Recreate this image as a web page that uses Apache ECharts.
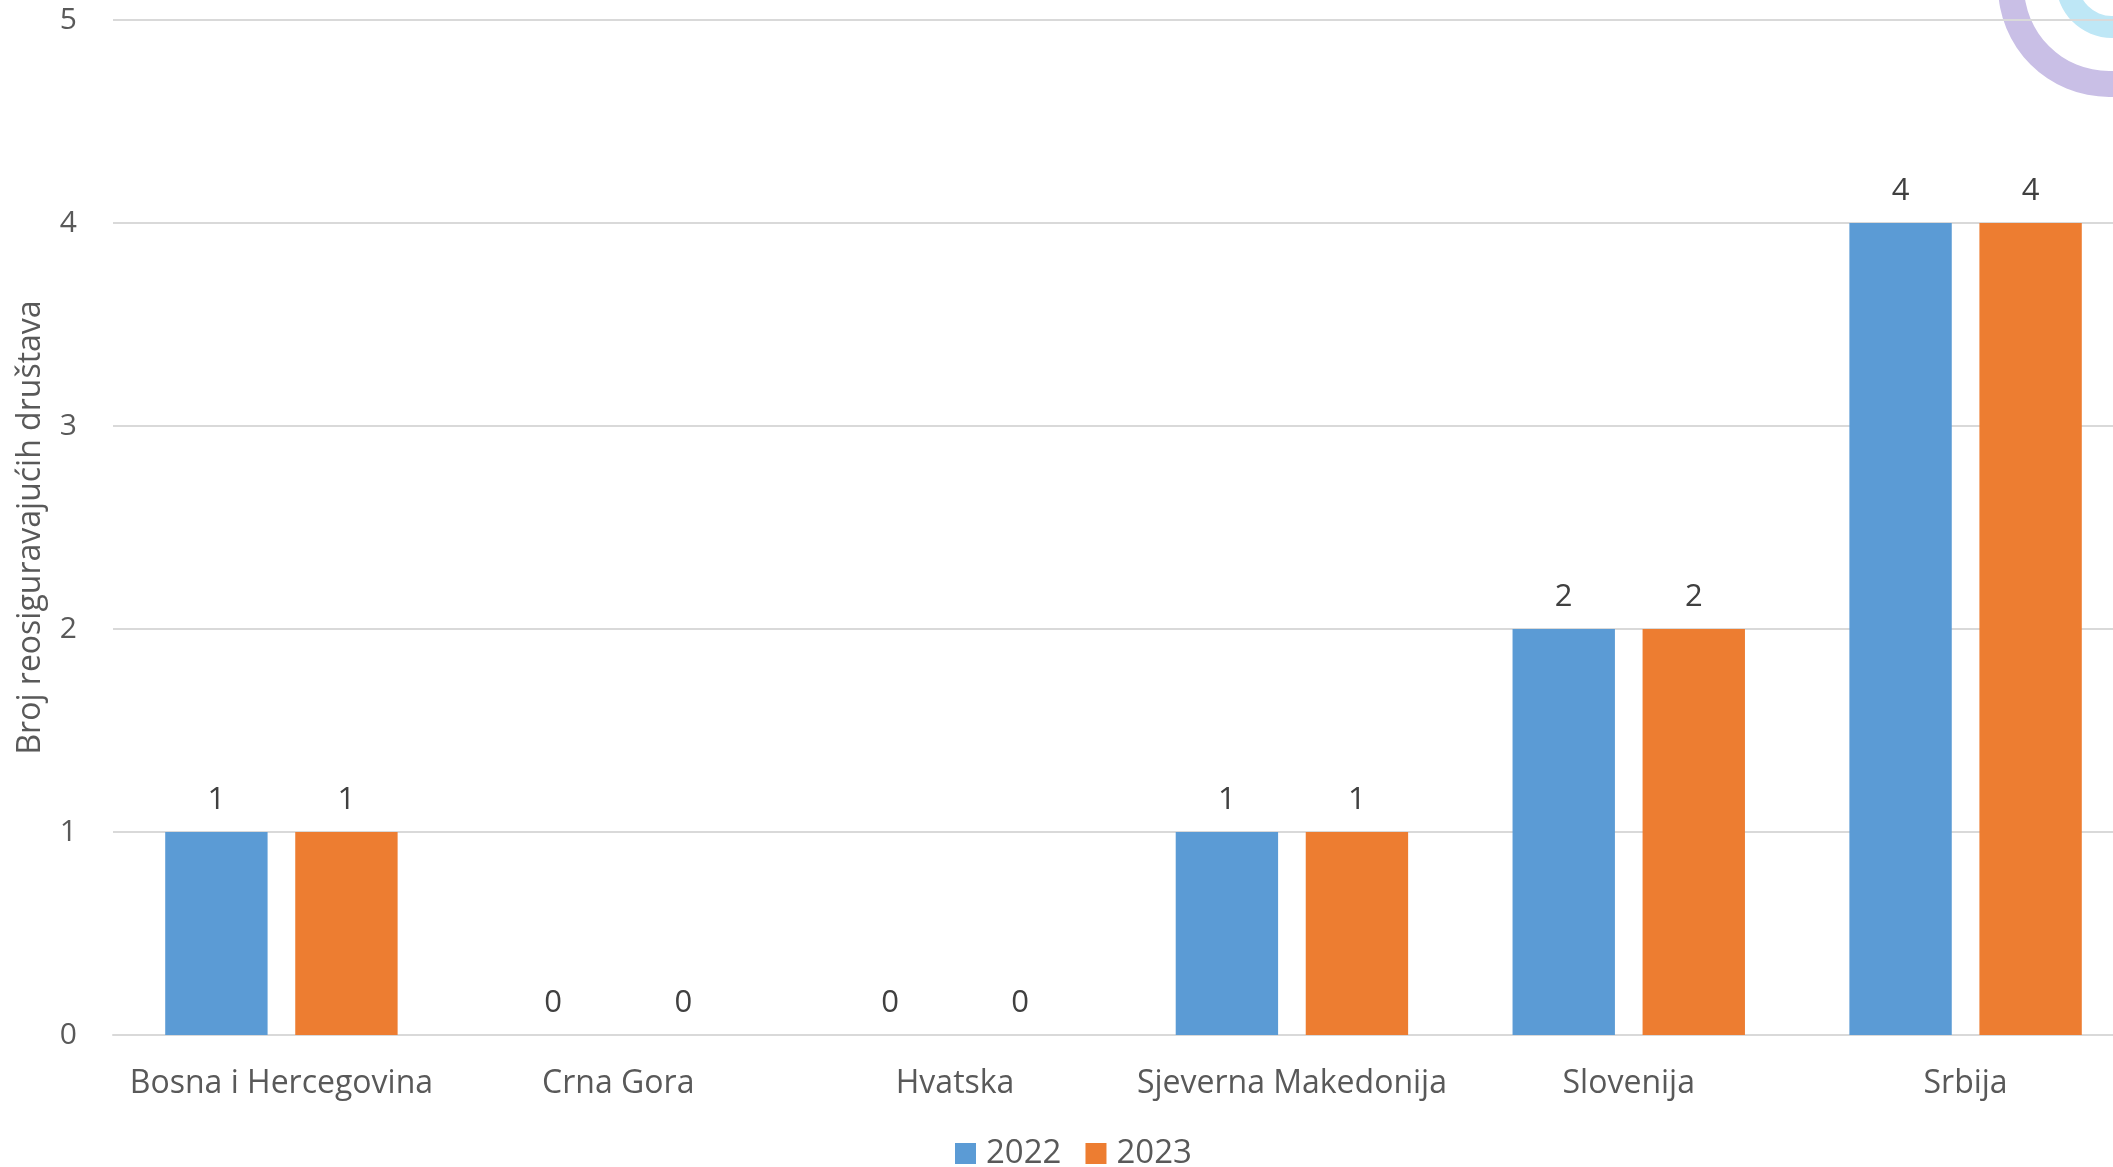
<!DOCTYPE html>
<html>
<head>
<meta charset="utf-8">
<script src="https://cdn.jsdelivr.net/npm/echarts@6/dist/echarts.min.js"></script>
<style>
html,body{margin:0;padding:0;background:#fff;}
#chart{width:2113px;height:1167px;}
</style>
</head>
<body>
<div id="chart"></div>
<script>
const categories = ['Bosna i Hercegovina', 'Crna Gora', 'Hvatska', 'Sjeverna Makedonija', 'Slovenija', 'Srbija'];
const values2022 = [1, 0, 0, 1, 2, 4];
const values2023 = [1, 0, 0, 1, 2, 4];
const seriesNames = ['2022', '2023'];
const yAxisTitle = 'Broj reosiguravajućih društava';

const FONT = '"Open Sans", "Noto Sans", sans-serif';
const chart = echarts.init(document.getElementById('chart'));

const labelStyle = {
  show: true,
  position: 'top',
  distance: 16,
  color: '#404040',
  fontSize: 31,
  fontFamily: FONT
};

chart.setOption({
  animation: false,
  backgroundColor: '#ffffff',
  grid: { left: 113, right: -21, top: 20, bottom: 132, containLabel: false, outerBoundsMode: 'none' },
  legend: {
    data: seriesNames,
    left: 950,
    top: 1132,
    itemWidth: 21,
    itemHeight: 21,
    itemGap: 24,
    icon: 'rect',
    textStyle: { color: '#595959', fontSize: 33, fontFamily: FONT, padding: [0, 0, 0, 5] }
  },
  xAxis: {
    type: 'category',
    data: categories,
    axisLine: { lineStyle: { color: '#D9D9D9', width: 2 } },
    axisTick: { show: false },
    axisLabel: { color: '#595959', fontSize: 32, fontFamily: FONT, margin: 33, interval: 0 }
  },
  yAxis: {
    type: 'value',
    min: 0,
    max: 5,
    interval: 1,
    name: yAxisTitle,
    nameLocation: 'middle',
    nameGap: 66,
    nameTextStyle: { color: '#595959', fontSize: 32, fontFamily: FONT },
    axisLine: { show: false },
    axisTick: { show: false },
    axisLabel: { color: '#595959', fontSize: 30, fontFamily: FONT, margin: 36 },
    splitLine: { lineStyle: { color: '#D9D9D9', width: 2 } }
  },
  series: [
    {
      name: seriesNames[0],
      type: 'bar',
      data: values2022,
      itemStyle: { color: '#5B9BD5' },
      barGap: '27%',
      barCategoryGap: '31%',
      label: labelStyle
    },
    {
      name: seriesNames[1],
      type: 'bar',
      data: values2023,
      itemStyle: { color: '#ED7D31' },
      label: labelStyle
    }
  ],
  graphic: [
    {
      type: 'ring',
      silent: true,
      z: -1,
      shape: { cx: 2109, cy: -14, r: 111, r0: 85 },
      style: { fill: '#C9BFE6' }
    },
    {
      type: 'ring',
      silent: true,
      z: -1,
      shape: { cx: 2112, cy: -18, r: 56, r0: 34 },
      style: { fill: '#BEE7F6' }
    }
  ]
});
</script>
</body>
</html>
